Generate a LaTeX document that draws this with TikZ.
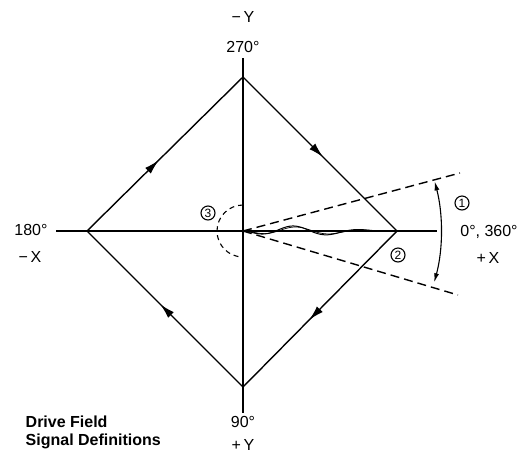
\documentclass[tikz,border=0pt]{standalone}
\usepackage{fontspec}
\setmainfont{Liberation Sans}
\usetikzlibrary{arrows.meta,decorations.markings}
\begin{document}
\begin{tikzpicture}[x=1pt,y=-1pt, line width=1.4pt,
  lbl/.style={font=\fontsize{16}{18}\selectfont, inner sep=0pt},
  ttl/.style={font=\fontsize{16}{18}\selectfont\bfseries, inner sep=0pt, anchor=west},
  midarrow/.style={postaction={decorate},decoration={markings,mark=at position #1 with {\arrow{Latex[length=15pt,width=8pt]}}}},
  dsh/.style={dash pattern=on 9pt off 5pt},
  sdsh/.style={dash pattern=on 5pt off 4pt, line width=1.1pt},
  circnum/.style={draw,circle,inner sep=0pt,minimum size=14pt,line width=1.1pt,font=\fontsize{12}{13}\selectfont}]
\useasboundingbox (0,0) rectangle (522,459);
\coordinate (O) at (243,231);
\coordinate (T) at (243,77);
\coordinate (B) at (243,387);
\coordinate (L) at (87,231);
\coordinate (R) at (397,231);
\coordinate (Ytop) at (243,58);
\coordinate (Ybot) at (243,413);
\coordinate (Xl) at (56,231);
\coordinate (Xr) at (437,231);
\coordinate (D1) at (460,173);
\coordinate (D2) at (458,295);
% axes
\draw (Ytop) -- (Ybot);
\draw (Xl) -- (Xr);
% diamond
\draw[midarrow=0.46] (L) -- (T);
\draw[midarrow=0.52] (T) -- (R);
\draw[midarrow=0.57] (R) -- (B);
\draw[midarrow=0.53] (B) -- (L);
% dashed sector
\draw[dsh] (O) -- (D1);
\draw[dsh] (O) -- (D2);
\draw[line width=1.1pt,{Latex[length=9pt,width=5pt]}-{Latex[length=9pt,width=5pt]}] ([shift={(-14.5:198)}]O) arc[start angle=-14.5, end angle=15, radius=198];
% small dashed arc
\draw[sdsh] ([shift={(-90:26)}]O) arc[start angle=-90, end angle=-270, radius=26];
% wave
\draw[line width=1pt] plot[domain=0:154, samples=120, smooth] ({243+\x}, {231 - 34*(\x/154)*(1-\x/154)*(1-\x/154)*sin((\x-32.5)*5.142857)});
\draw[line width=0.7pt] plot[domain=0:154, samples=120, smooth] ({243+\x}, {231 - 27*(\x/154)*(1-\x/154)*(1-\x/154)*sin((\x-35)*5.142857)});
% circled numbers
\node[circnum] (c1) at (462,203) {1};
\node[circnum] (c2) at (398,255) {2};
\node[circnum] (c3) at (208,213) {3};
% labels
\node[lbl] (mY) at (243,17) {−\,Y};
\node[lbl] (a270) at (243,47) {270°};
\node[lbl] (a90) at (243,422) {90°};
\node[lbl] (pY) at (243,445) {+\,Y};
\node[lbl] (a180) at (31,230) {180°};
\node[lbl] (mX) at (30,257) {−\,X};
\node[lbl] (a0) at (489,232) {0°, 360°};
\node[lbl] (pX) at (488,258) {+\,X};
\node[ttl] (t1) at (25,422) {Drive Field};
\node[ttl] (t2) at (25,441) {Signal Definitions};
\end{tikzpicture}
\end{document}
